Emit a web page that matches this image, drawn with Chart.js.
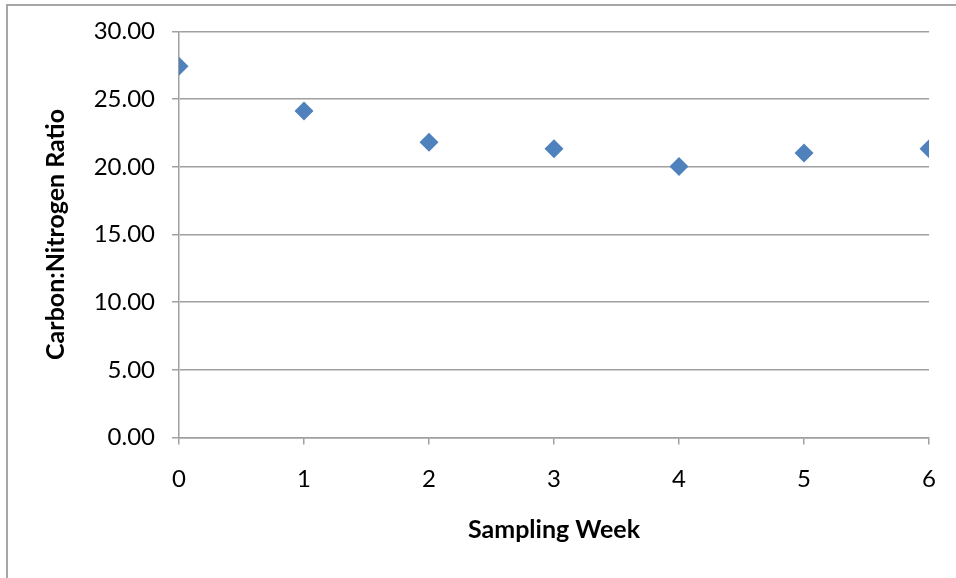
<!DOCTYPE html>
<html>
<head>
<meta charset="utf-8">
<script src="https://cdn.jsdelivr.net/npm/chart.js@4/dist/chart.umd.min.js"></script>
<style>
  html, body { margin: 0; padding: 0; background: #fff; overflow: hidden; }
  #frame {
    position: absolute; left: 6px; top: 4px; width: 1000px; height: 700px;
    border-left: 2px solid #a6a6a6; border-top: 2px solid #a6a6a6;
  }
  #wrap { position: absolute; left: 0; top: 0; width: 956px; height: 578px; }
</style>
</head>
<body>
<div id="frame"></div>
<div id="wrap"><canvas id="cn-chart"></canvas></div>
<script>
// sampling weeks and C:N ratio per week
const weeks = [0, 1, 2, 3, 4, 5, 6];
const cnRatio = [27.42, 24.12, 21.81, 21.34, 20.02, 21.02, 21.34];
const yTicks = [0, 5, 10, 15, 20, 25, 30];

const points = [];
for (let i = 0; i < weeks.length; i++) {
  points.push({ x: weeks[i], y: cnRatio[i] });
}

const gridGray = "#a0a0a0";
const fontFamily = "Lato, 'Open Sans', sans-serif";

new Chart(document.getElementById("cn-chart"), {
  type: "scatter",
  data: {
    datasets: [
      {
        label: "C:N",
        data: points,
        pointStyle: "rectRot",
        pointRadius: 9.5,
        pointHoverRadius: 9.5,
        backgroundColor: "#4f81bd",
        borderColor: "#4f81bd",
        borderWidth: 0,
      },
    ],
  },
  options: {
    responsive: true,
    maintainAspectRatio: false,
    animation: false,
    layout: { padding: { left: 7, top: 28, right: 19, bottom: 0 } },
    plugins: {
      legend: { display: false },
      tooltip: { enabled: false },
    },
    scales: {
      x: {
        type: "linear",
        min: 0,
        max: 6,
        afterBuildTicks: (scale) => {
          scale.ticks = weeks.map((w) => ({ value: w }));
        },
        afterFit: (scale) => { scale.height = 140.5; },
        grid: {
          drawOnChartArea: false,
          drawTicks: true,
          tickLength: 7,
          color: gridGray,
          lineWidth: 1.5,
        },
        border: { color: gridGray, width: 1.5 },
        ticks: {
          color: "#000",
          padding: 20,
          font: { family: fontFamily, size: 24 },
        },
        title: {
          display: true,
          text: "Sampling Week",
          color: "#000",
          font: { family: fontFamily, size: 25, weight: "bold" },
          padding: { top: 0, bottom: 33 },
        },
      },
      y: {
        min: 0,
        max: 30,
        afterBuildTicks: (scale) => {
          scale.ticks = yTicks.map((v) => ({ value: v }));
        },
        afterFit: (scale) => { scale.width = 172; },
        grid: {
          color: gridGray,
          lineWidth: 1.5,
          tickLength: 7,
        },
        border: { color: gridGray, width: 1.5 },
        ticks: {
          color: "#000",
          padding: 17,
          font: { family: fontFamily, size: 24 },
          callback: (v) => v.toFixed(2),
        },
        title: {
          display: true,
          text: "Carbon:Nitrogen Ratio",
          color: "#000",
          font: { family: fontFamily, size: 25, weight: "bold" },
          padding: { top: 34, bottom: 0 },
        },
      },
    },
  },
});
</script>
</body>
</html>
